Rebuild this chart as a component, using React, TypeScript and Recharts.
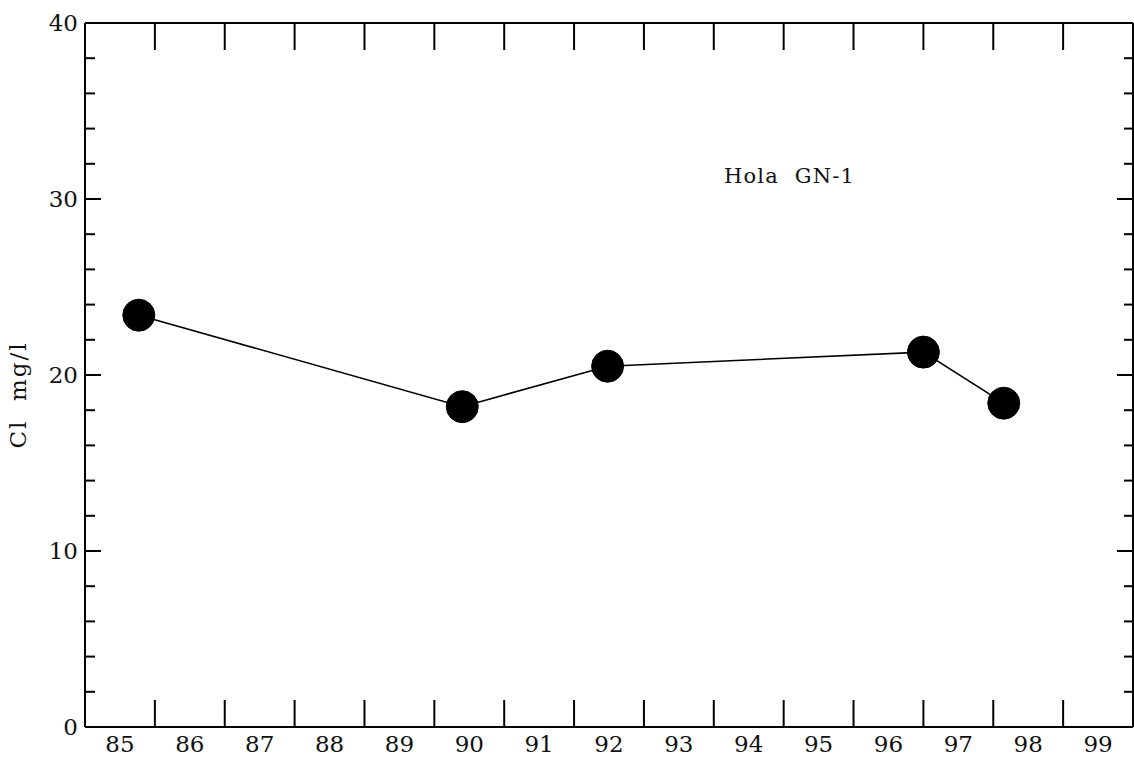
import { LineChart, Line, XAxis, YAxis } from "recharts"

// Cl samples for well Hola GN-1 (decimal year, mg/l)
const sampleYears = [85.27, 89.9, 91.98, 96.5, 97.65]
const chloride = [23.4, 18.2, 20.5, 21.3, 18.4]

// year labels sit on whole years, tick marks on the half years between them
const yearLabels = [85, 86, 87, 88, 89, 90, 91, 92, 93, 94, 95, 96, 97, 98, 99]
const yearDividers = [85.5, 86.5, 87.5, 88.5, 89.5, 90.5, 91.5, 92.5, 93.5, 94.5, 95.5, 96.5, 97.5, 98.5]
const clTicks = [0, 2, 4, 6, 8, 10, 12, 14, 16, 18, 20, 22, 24, 26, 28, 30, 32, 34, 36, 38, 40]
const clLabelStep = 10

const data = sampleYears.map((year, i) => ({ year, cl: chloride[i] }))
const bottomTicks = [...yearLabels, ...yearDividers].sort((a, b) => a - b)

const font = "'DejaVu Serif', serif"
const ink = "#000"
const xDomain = [84.5, 99.5]
const yDomain = [0, 40]

const labelStyle = { fill: "#111", fontFamily: font, fontSize: 23 }

function BottomTick({ x, y, payload }: any) {
  const v = payload.value
  if (Number.isInteger(v)) {
    return (
      <text x={x} y={y + 25} textAnchor="middle" {...labelStyle}>
        {v}
      </text>
    )
  }
  return <line x1={x} x2={x} y1={y} y2={y - 27} stroke={ink} strokeWidth={2} />
}

function TopTick({ x, y }: any) {
  return <line x1={x} x2={x} y1={y} y2={y + 27} stroke={ink} strokeWidth={2} />
}

function LeftTick({ x, y, payload }: any) {
  const v = payload.value
  const major = v % clLabelStep === 0
  const len = major ? 16 : 10
  return (
    <g>
      {v > 0 && v < 40 && <line x1={x} x2={x + len} y1={y} y2={y} stroke={ink} strokeWidth={2} />}
      {major && (
        <text x={x - 7} y={y + 8} textAnchor="end" {...labelStyle}>
          {v}
        </text>
      )}
    </g>
  )
}

function RightTick({ x, y, payload }: any) {
  const v = payload.value
  const len = v > 0 && v < 40 ? (v % clLabelStep === 0 ? 16 : 9) : 0
  return <line x1={x} x2={x - len} y1={y} y2={y} stroke={ink} strokeWidth={2} />
}

const frame = { stroke: ink, strokeWidth: 2 }

export default function App() {
  return (
    <div style={{ position: "absolute", left: 0, top: 0, background: "#fff" }}>
      <LineChart width={1134} height={768} data={data} margin={{ top: 3, right: -19, left: 0, bottom: 0 }}>
        <XAxis
          xAxisId="main"
          dataKey="year"
          type="number"
          domain={xDomain}
          ticks={bottomTicks}
          interval={0}
          height={41}
          tickSize={0}
          tickMargin={0}
          tickLine={false}
          axisLine={frame}
          tick={BottomTick}
        />
        <XAxis
          xAxisId="top"
          orientation="top"
          dataKey="year"
          type="number"
          domain={xDomain}
          allowDataOverflow
          ticks={yearDividers}
          interval={0}
          height={20}
          tickSize={0}
          tickMargin={0}
          tickLine={false}
          axisLine={frame}
          tick={TopTick}
        />
        <YAxis
          yAxisId="left"
          type="number"
          domain={yDomain}
          ticks={clTicks}
          interval={0}
          width={85}
          tickSize={0}
          tickMargin={0}
          tickLine={false}
          axisLine={frame}
          tick={LeftTick}
        />
        <YAxis
          yAxisId="right"
          orientation="right"
          type="number"
          domain={yDomain}
          allowDataOverflow
          ticks={clTicks}
          interval={0}
          width={20}
          tickSize={0}
          tickMargin={0}
          tickLine={false}
          axisLine={frame}
          tick={RightTick}
        />
        <Line
          xAxisId="main"
          yAxisId="left"
          type="linear"
          dataKey="cl"
          stroke={ink}
          strokeWidth={1.6}
          dot={{ r: 16, fill: ink, stroke: ink, strokeWidth: 1 }}
          activeDot={false}
          isAnimationActive={false}
        />
        <text
          x={26}
          y={395}
          transform="rotate(-90, 26, 395)"
          textAnchor="middle"
          fill="#111"
          fontFamily={font}
          fontSize={23}
          letterSpacing={2}
          style={{ whiteSpace: "pre" }}
        >
          Cl  mg/l
        </text>
        <text x={724} y={183} fill="#111" fontFamily={font} fontSize={21} letterSpacing={1.2} style={{ whiteSpace: "pre" }}>
          Hola  GN-1
        </text>
      </LineChart>
    </div>
  )
}
